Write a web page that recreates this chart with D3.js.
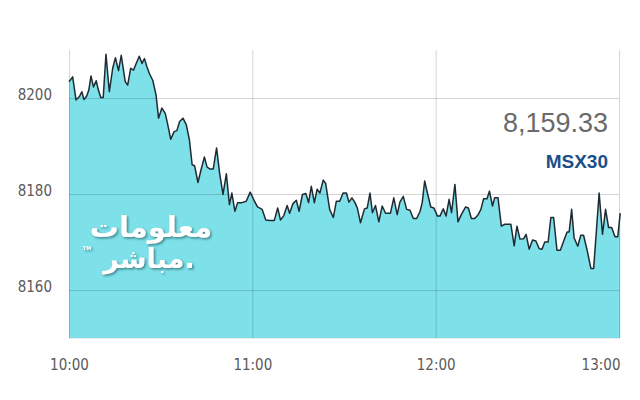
<!DOCTYPE html>
<html>
<head>
<meta charset="utf-8">
<script src="https://cdn.jsdelivr.net/npm/d3@7"></script>
<style>
  body { margin: 0; background: #fff; }
  svg { display: block; }
</style>
</head>
<body>
<div id="container"></div>
<script>
/* DATA */
// minutes after 10:00
const minutes = [0,1.2,2.3,3.4,4.2,4.9,5.8,6.5,7.2,8.0,
  8.9,9.6,10.4,11.2,12.1,13.2,14.3,15.2,16.2,17.1,
  18.4,19.2,20.2,21.1,22.2,23.0,23.9,24.7,25.5,26.3,
  27.4,28.5,29.3,30.4,31.5,32.2,33.3,34.4,35.3,36.2,
  37.3,38.4,39.4,40.3,41.1,42.2,43.2,44.3,45.2,46.2,
  47.2,48.3,49.3,50.4,51.5,52.5,53.3,54.3,55.2,56.6,
  58.0,59.3,60.7,61.7,63.2,64.4,65.9,67.2,68.3,69.2,
  70.3,71.4,72.2,73.3,74.4,75.3,76.4,77.5,78.4,79.3,
  80.3,81.2,82.1,83.2,84.0,85.3,86.5,87.5,88.6,89.7,
  90.8,91.6,92.6,93.6,94.4,95.4,96.7,97.6,98.5,99.3,
  100.3,101.4,102.5,103.6,105.2,106.3,107.4,108.3,109.4,110.5,
  111.6,112.7,113.8,114.9,115.6,116.4,117.3,118.4,119.4,120.6,
  121.4,122.5,123.4,124.4,125.2,126.3,127.3,128.4,129.8,130.7,
  131.7,132.8,133.9,134.8,135.7,136.8,137.6,138.6,139.3,140.4,
  141.5,142.6,144.6,145.7,146.6,147.6,148.8,149.6,150.6,151.7,
  152.8,153.9,154.8,155.7,156.8,157.7,158.6,159.7,160.8,161.9,
  163.0,163.7,164.5,165.3,166.5,167.5,168.4,169.5,170.8,171.7,
  173.5,174.6,175.6,176.6,177.6,178.7,179.6,180.4];

const values = [8203.4,8204.4,8199.6,8200.3,8201.3,8199.7,8200.4,8201.7,8204.6,8202.3,
  8203.6,8201.7,8200.1,8200.1,8209.1,8201.3,8206.2,8208.4,8205.7,8208.9,
  8203.4,8202.7,8206.2,8205.8,8207.5,8208.7,8207.2,8208.2,8206.5,8205.1,
  8203.7,8200.6,8195.8,8197.9,8196.8,8194.8,8191.4,8193.0,8193.2,8195.1,
  8195.8,8194.4,8191.3,8186.1,8185.9,8182.4,8185.0,8187.7,8185.6,8185.2,
  8185.2,8189.6,8184.3,8179.9,8184.2,8177.8,8180.2,8176.4,8178.2,8178.2,
  8178.5,8180.4,8178.5,8177.3,8176.8,8174.6,8174.5,8174.5,8177.1,8174.6,
  8175.5,8177.6,8176.0,8178.0,8178.7,8176.4,8179.9,8180.1,8178.2,8181.6,
  8178.2,8181.0,8180.2,8182.9,8182.2,8176.8,8175.1,8178.5,8178.5,8180.2,
  8180.2,8178.3,8179.2,8178.2,8177.0,8174.0,8176.9,8177.1,8180.2,8176.1,
  8177.6,8174.2,8177.5,8176.0,8176.0,8179.2,8175.7,8178.3,8179.5,8176.8,
  8176.6,8174.9,8174.9,8176.4,8178.2,8182.7,8180.2,8177.3,8177.1,8175.4,
  8175.4,8176.9,8175.4,8178.9,8176.1,8182.0,8174.2,8175.7,8177.3,8177.1,
  8174.9,8174.9,8175.7,8176.8,8179.0,8179.0,8180.6,8177.5,8179.2,8179.2,
  8173.3,8173.7,8173.7,8169.2,8173.3,8170.6,8170.7,8171.6,8168.5,8170.4,
  8170.2,8168.6,8168.5,8170.0,8170.0,8175.1,8175.1,8168.3,8168.3,8170.2,
  8172.1,8172.1,8176.8,8170.9,8169.1,8171.4,8171.4,8168.5,8164.5,8164.5,
  8180.2,8171.6,8176.8,8173.0,8173.0,8171.1,8171.1,8176.0];

const xTicks = [0, 60, 120, 180];
const xTickLabels = ["10:00", "11:00", "12:00", "13:00"];
const yTicks = [8160, 8180, 8200];
const lastValue = "8,159.33";
const indexName = "MSX30";

/* CONSTANTS */
const width = 640, height = 400,
  margin = { top: 50, right: 21, bottom: 62, left: 69 };

const data = minutes.map((m, i) => ({ m: m, v: values[i] }));

/* SCALES */
const xScale = d3.scaleLinear()
  .domain([0, 180])
  .range([margin.left, width - margin.right]);

const yScale = d3.scaleLinear()
  .domain([8150, 8210])
  .range([height - margin.bottom, margin.top]);

const svg = d3.select("#container")
  .append("svg")
  .attr("width", width)
  .attr("height", height);

// condensed look of the tick labels
const styleLabels = sel => sel
  .style("font-family", "'DejaVu Sans Condensed', 'DejaVu Sans', sans-serif")
  .style("font-stretch", "condensed")
  .style("font-size", "15px")
  .attr("fill", "#5a5a5a");

// area
const area = d3.area()
  .x(d => xScale(d.m))
  .y0(yScale.range()[0])
  .y1(d => yScale(d.v));

svg.append("path")
  .datum(data)
  .attr("d", area)
  .attr("fill", "#7ee0e9");

// grid lines (on top of the fill, semi transparent)
const gridColor = "rgba(0,0,0,0.16)";
svg.append("g")
  .attr("transform", `translate(${margin.left},0)`)
  .call(d3.axisLeft(yScale).tickValues(yTicks)
    .tickSize(-(width - margin.left - margin.right)).tickFormat(""))
  .call(g => g.select(".domain").remove())
  .selectAll("line").attr("stroke", gridColor);

svg.append("g")
  .attr("transform", `translate(0,${margin.top})`)
  .call(d3.axisTop(xScale).tickValues(xTicks)
    .tickSize(-(height - margin.top - margin.bottom)).tickFormat(""))
  .call(g => g.select(".domain").remove())
  .selectAll("line").attr("stroke", gridColor);

svg.append("line")
  .attr("x1", margin.left).attr("x2", width - margin.right)
  .attr("y1", yScale.range()[0] + 0.5).attr("y2", yScale.range()[0] + 0.5)
  .attr("stroke", "rgba(0,0,0,0.08)");

// line
const line = d3.line()
  .x(d => xScale(d.m))
  .y(d => yScale(d.v));

svg.append("path")
  .datum(data)
  .attr("d", line)
  .attr("fill", "none")
  .attr("stroke", "#1f2b33")
  .attr("stroke-width", 1.5)
  .attr("stroke-linejoin", "round");

// axes labels
const yAxis = svg.append("g")
  .attr("transform", `translate(${margin.left},0)`)
  .call(d3.axisLeft(yScale).tickValues(yTicks).tickFormat(d3.format("d"))
    .tickSize(0).tickPadding(17));
yAxis.select(".domain").remove();
yAxis.selectAll("text")
  .attr("dy", "0.1em")
  .call(styleLabels);

const xAxis = svg.append("g")
  .attr("transform", `translate(0,${yScale.range()[0]})`)
  .call(d3.axisBottom(xScale).tickValues(xTicks)
    .tickFormat((d, i) => xTickLabels[i]).tickSize(0).tickPadding(21));
xAxis.select(".domain").remove();
xAxis.selectAll("text")
  .call(styleLabels)
  .attr("text-anchor", (d, i) => i === xTicks.length - 1 ? "end" : "middle")
  .attr("dx", (d, i) => i === xTicks.length - 1 ? "1px" : "0");

// last value + index name
svg.append("text")
  .attr("x", 608).attr("y", 132)
  .attr("text-anchor", "end")
  .style("font-family", "'Liberation Sans', Arial, sans-serif")
  .style("font-size", "27px")
  .attr("fill", "#6a6a6a")
  .text(lastValue);

svg.append("text")
  .attr("x", 608).attr("y", 168)
  .attr("text-anchor", "end")
  .style("font-family", "'Liberation Sans', Arial, sans-serif")
  .style("font-size", "19px")
  .style("font-weight", "bold")
  .attr("fill", "#1b4f8a")
  .text(indexName);

/* WATERMARK */
const defs = svg.append("defs");
defs.append("filter")
  .attr("id", "shadow")
  .append("feDropShadow")
  .attr("dx", 1.5).attr("dy", 1.5)
  .attr("stdDeviation", 0.8)
  .attr("flood-color", "#2f6f76")
  .attr("flood-opacity", 0.8);

const mark = svg.append("g")
  .attr("filter", "url(#shadow)")
  .attr("fill", "#fff")
  .style("font-family", "'DejaVu Sans', sans-serif")
  .style("font-weight", "bold");

mark.append("text")
  .attr("x", 151).attr("y", 237)
  .attr("text-anchor", "middle")
  .style("font-size", "29px")
  .text("معلومات");

mark.append("text")
  .attr("x", 149).attr("y", 268)
  .attr("text-anchor", "middle")
  .style("font-size", "27px")
  .text("مباشر.");

mark.append("text")
  .attr("x", 87).attr("y", 250)
  .attr("text-anchor", "middle")
  .style("font-size", "5px")
  .text("TM");
</script>
</body>
</html>
